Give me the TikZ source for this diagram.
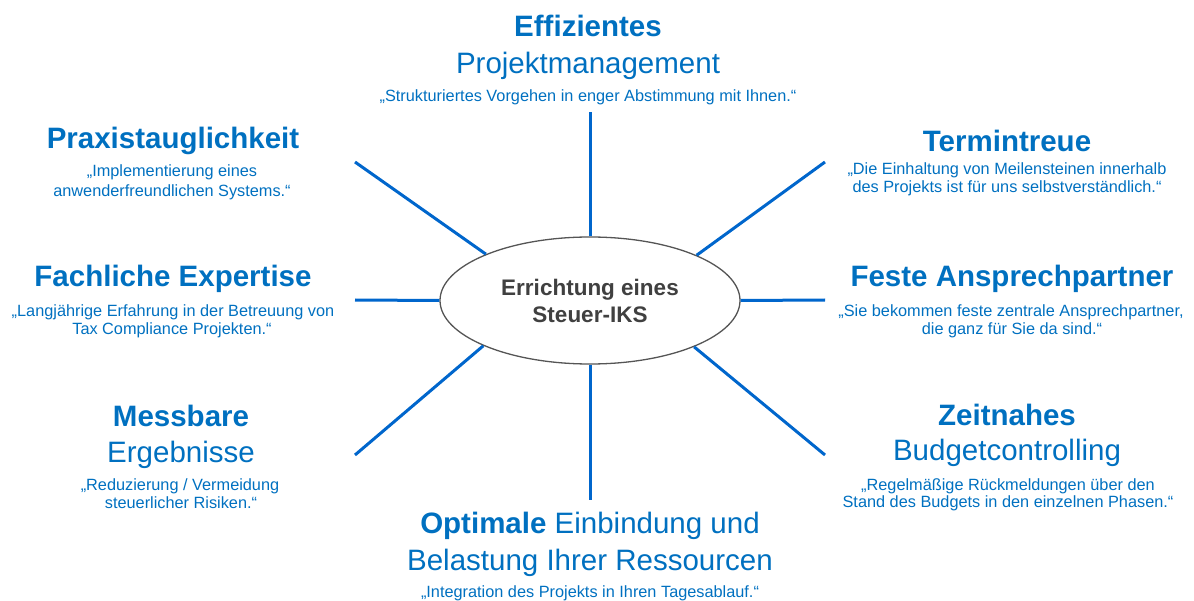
\documentclass[tikz,border=0pt]{standalone}
\usepackage{fontspec}
\setmainfont{Liberation Sans}
\usetikzlibrary{shapes.geometric}
\definecolor{tblue}{HTML}{0070C0}
\definecolor{lblue}{HTML}{0066CC}
\definecolor{dgray}{HTML}{404040}
\definecolor{egray}{HTML}{555555}
\begin{document}
\begin{tikzpicture}[x=1pt,y=-1pt,
  title/.style={anchor=base, text=tblue, font=\fontsize{29.5}{34}\selectfont\bfseries, inner sep=0pt},
  sub/.style={anchor=base, text=tblue, font=\fontsize{29.5}{34}\selectfont, inner sep=0pt},
  quote/.style={anchor=base, text=tblue, font=\fontsize{16.3}{19}\selectfont, inner sep=0pt},
  spoke/.style={draw=lblue, line width=3pt},
  hub/.style={ellipse, draw=egray, line width=1.3pt, fill=white, minimum width=300pt, minimum height=127pt, inner sep=0pt, align=center, text=dgray, font=\fontsize{22.5}{27}\selectfont\bfseries}]
\useasboundingbox (0,0) rectangle (1194,601);

% hub
\node[hub] (c) at (590,300.5) {Errichtung eines\\Steuer-IKS};

% outer spoke ends
\coordinate (pt) at (590,112);
\coordinate (pul) at (355,162);
\coordinate (pur) at (825,162);
\coordinate (pl) at (355,300);
\coordinate (pr) at (825,300);
\coordinate (pll) at (355,455);
\coordinate (plr) at (825,455);
\coordinate (pb) at (590,500);

\draw[spoke] (c.north) -- (pt);
\draw[spoke] (c.south) -- (pb);
\draw[spoke] (c.west) -- (pl);
\draw[spoke] (c.east) -- (pr);
\draw[spoke] (c.156.8) -- (pul);
\draw[spoke] (c.23.7) -- (pur);
\draw[spoke] (c.203.2) -- (pll);
\draw[spoke] (c.336.8) -- (plr);

% top
\node[title] (t1) at (588,37) {Effizientes};
\node[sub] (t2) at (588,74) {Projektmanagement};
\node[quote] (t3) at (588,102) {„Strukturiertes Vorgehen in enger Abstimmung mit Ihnen.“};

% Praxistauglichkeit
\node[title] (a1) at (173,149) {Praxistauglichkeit};
\node[quote] (a2) at (172,177) {„Implementierung eines};
\node[quote] (a3) at (172,197) {anwenderfreundlichen Systems.“};

% Termintreue
\node[title] (b1) at (1007,152) {Termintreue};
\node[quote] (b2) at (1007,175) {„Die Einhaltung von Meilensteinen innerhalb};
\node[quote] (b3) at (1007,193) {des Projekts ist für uns selbstverständlich.“};

% Fachliche Expertise
\node[title] (d1) at (173,287) {Fachliche Expertise};
\node[quote] (d2) at (173,317) {„Langjährige Erfahrung in der Betreuung von};
\node[quote] (d3) at (172,335) {Tax Compliance Projekten.“};

% Feste Ansprechpartner
\node[title] (e1) at (1012,287) {Feste Ansprechpartner};
\node[quote] (e2) at (1011,317) {„Sie bekommen feste zentrale Ansprechpartner,};
\node[quote] (e3) at (1012,335) {die ganz für Sie da sind.“};

% Messbare Ergebnisse
\node[title] (f1) at (181,426) {Messbare};
\node[sub] (f2) at (181,462) {Ergebnisse};
\node[quote] (f3) at (180,490) {„Reduzierung / Vermeidung};
\node[quote] (f4) at (181,508) {steuerlicher Risiken.“};

% Zeitnahes Budgetcontrolling
\node[title] (g1) at (1007,425) {Zeitnahes};
\node[sub] (g2) at (1007,460) {Budgetcontrolling};
\node[quote] (g3) at (1008,490) {„Regelmäßige Rückmeldungen über den};
\node[quote] (g4) at (1008,507) {Stand des Budgets in den einzelnen Phasen.“};

% bottom
\node[sub] (h1) at (590,533) {\textbf{Optimale} Einbindung und};
\node[sub] (h2) at (590,570) {Belastung Ihrer Ressourcen};
\node[quote] (h3) at (590,597) {„Integration des Projekts in Ihren Tagesablauf.“};
\end{tikzpicture}
\end{document}
